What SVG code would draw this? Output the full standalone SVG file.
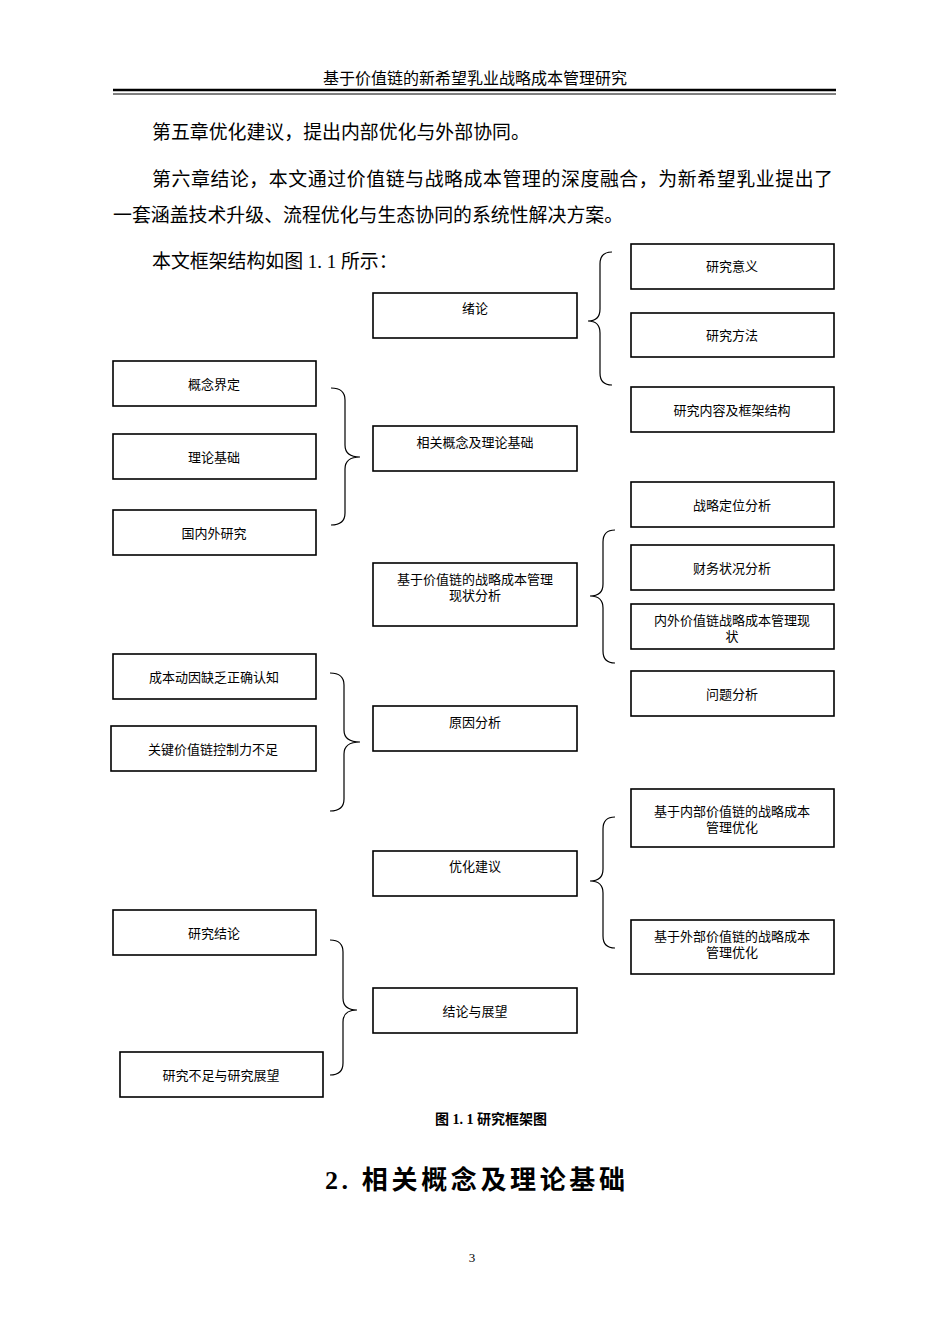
<svg xmlns="http://www.w3.org/2000/svg" width="950" height="1344" viewBox="0 0 950 1344">
<style>
text{font-family:"Liberation Serif","Noto Sans CJK SC",serif;fill:#000}
.b rect{fill:#fff;stroke:#000;stroke-width:1.6}
.b text{font-size:13px;text-anchor:middle}
.p{font-size:18.9px}
.c path{fill:none;stroke:#000;stroke-width:1.2}
</style>
<rect width="950" height="1344" fill="#fff"/>
<text x="475" y="84" font-size="16" text-anchor="middle">基于价值链的新希望乳业战略成本管理研究</text>
<line x1="113" y1="90" x2="836" y2="90" stroke="#000" stroke-width="2.5"/>
<line x1="113" y1="94" x2="836" y2="94" stroke="#000" stroke-width="1"/>
<text class="p" x="152" y="139">第五章优化建议，提出内部优化与外部协同。</text>
<text class="p" x="152" y="186" textLength="681">第六章结论，本文通过价值链与战略成本管理的深度融合，为新希望乳业提出了</text>
<text class="p" x="113" y="222">一套涵盖技术升级、流程优化与生态协同的系统性解决方案。</text>
<text class="p" x="152" y="268">本文框架结构如图 1. 1 所示：</text>
<g class="c" id="connectors">
<path d="M612,252 Q600,252 600,264 L600,309 Q600,321 588,321 Q600,321 600,333 L600,373 Q600,385 612,385"/>
<path d="M331,388 Q345,388 345,400 L345,445 Q345,457 360,457 Q345,457 345,469 L345,513 Q345,525 331,525"/>
<path d="M615,530 Q603,530 603,542 L603,584 Q603,596 590,596 Q603,596 603,608 L603,651 Q603,663 615,663"/>
<path d="M330,673 Q344,673 344,685 L344,730 Q344,742 360,742 Q344,742 344,754 L344,799 Q344,811 330,811"/>
<path d="M615,817 Q603,817 603,829 L603,869 Q603,881 590,881 Q603,881 603,893 L603,936 Q603,948 615,948"/>
<path d="M330,940 Q343,940 343,952 L343,998 Q343,1010 357,1010 Q343,1010 343,1022 L343,1063 Q343,1075 330,1075"/>
</g>
<g class="b">
<g id="n1"><rect x="631" y="244" width="203" height="45"/><text x="732" y="271">研究意义</text></g>
<g id="n2"><rect x="631" y="313" width="203" height="44"/><text x="732" y="340">研究方法</text></g>
<g id="n3"><rect x="631" y="387" width="203" height="45"/><text x="732" y="415">研究内容及框架结构</text></g>
<g id="n4"><rect x="373" y="293" width="204" height="45"/><text x="475" y="313">绪论</text></g>
<g id="n5"><rect x="113" y="361" width="203" height="45"/><text x="214" y="389">概念界定</text></g>
<g id="n6"><rect x="113" y="434" width="203" height="45"/><text x="214" y="462">理论基础</text></g>
<g id="n7"><rect x="113" y="510" width="203" height="45"/><text x="214" y="538">国内外研究</text></g>
<g id="n8"><rect x="373" y="426" width="204" height="45"/><text x="475" y="447">相关概念及理论基础</text></g>
<g id="n9"><rect x="373" y="563" width="204" height="63"/><text x="475" y="584">基于价值链的战略成本管理</text><text x="475" y="600">现状分析</text></g>
<g id="n10"><rect x="631" y="482" width="203" height="45"/><text x="732" y="510">战略定位分析</text></g>
<g id="n11"><rect x="631" y="545" width="203" height="45"/><text x="732" y="573">财务状况分析</text></g>
<g id="n12"><rect x="631" y="604" width="203" height="45"/><text x="732" y="625">内外价值链战略成本管理现</text><text x="732" y="641">状</text></g>
<g id="n13"><rect x="631" y="671" width="203" height="45"/><text x="732" y="699">问题分析</text></g>
<g id="n14"><rect x="113" y="654" width="203" height="45"/><text x="214" y="682">成本动因缺乏正确认知</text></g>
<g id="n15"><rect x="111" y="726" width="205" height="45"/><text x="213" y="754">关键价值链控制力不足</text></g>
<g id="n16"><rect x="373" y="706" width="204" height="45"/><text x="475" y="727">原因分析</text></g>
<g id="n17"><rect x="631" y="789" width="203" height="58"/><text x="732" y="816">基于内部价值链的战略成本</text><text x="732" y="832">管理优化</text></g>
<g id="n18"><rect x="373" y="851" width="204" height="45"/><text x="475" y="871">优化建议</text></g>
<g id="n19"><rect x="631" y="920" width="203" height="54"/><text x="732" y="941">基于外部价值链的战略成本</text><text x="732" y="957">管理优化</text></g>
<g id="n20"><rect x="113" y="910" width="203" height="45"/><text x="214" y="938">研究结论</text></g>
<g id="n21"><rect x="373" y="988" width="204" height="45"/><text x="475" y="1016">结论与展望</text></g>
<g id="n22"><rect x="120" y="1052" width="203" height="45"/><text x="221" y="1080">研究不足与研究展望</text></g>
</g>
<text x="491" y="1124" font-size="14" font-weight="bold" text-anchor="middle">图 1. 1 研究框架图</text>
<text x="325" y="1189" font-size="26" font-weight="bold" textLength="300">2.  相关概念及理论基础</text>
<text x="472" y="1262" font-size="13" text-anchor="middle">3</text>
</svg>
